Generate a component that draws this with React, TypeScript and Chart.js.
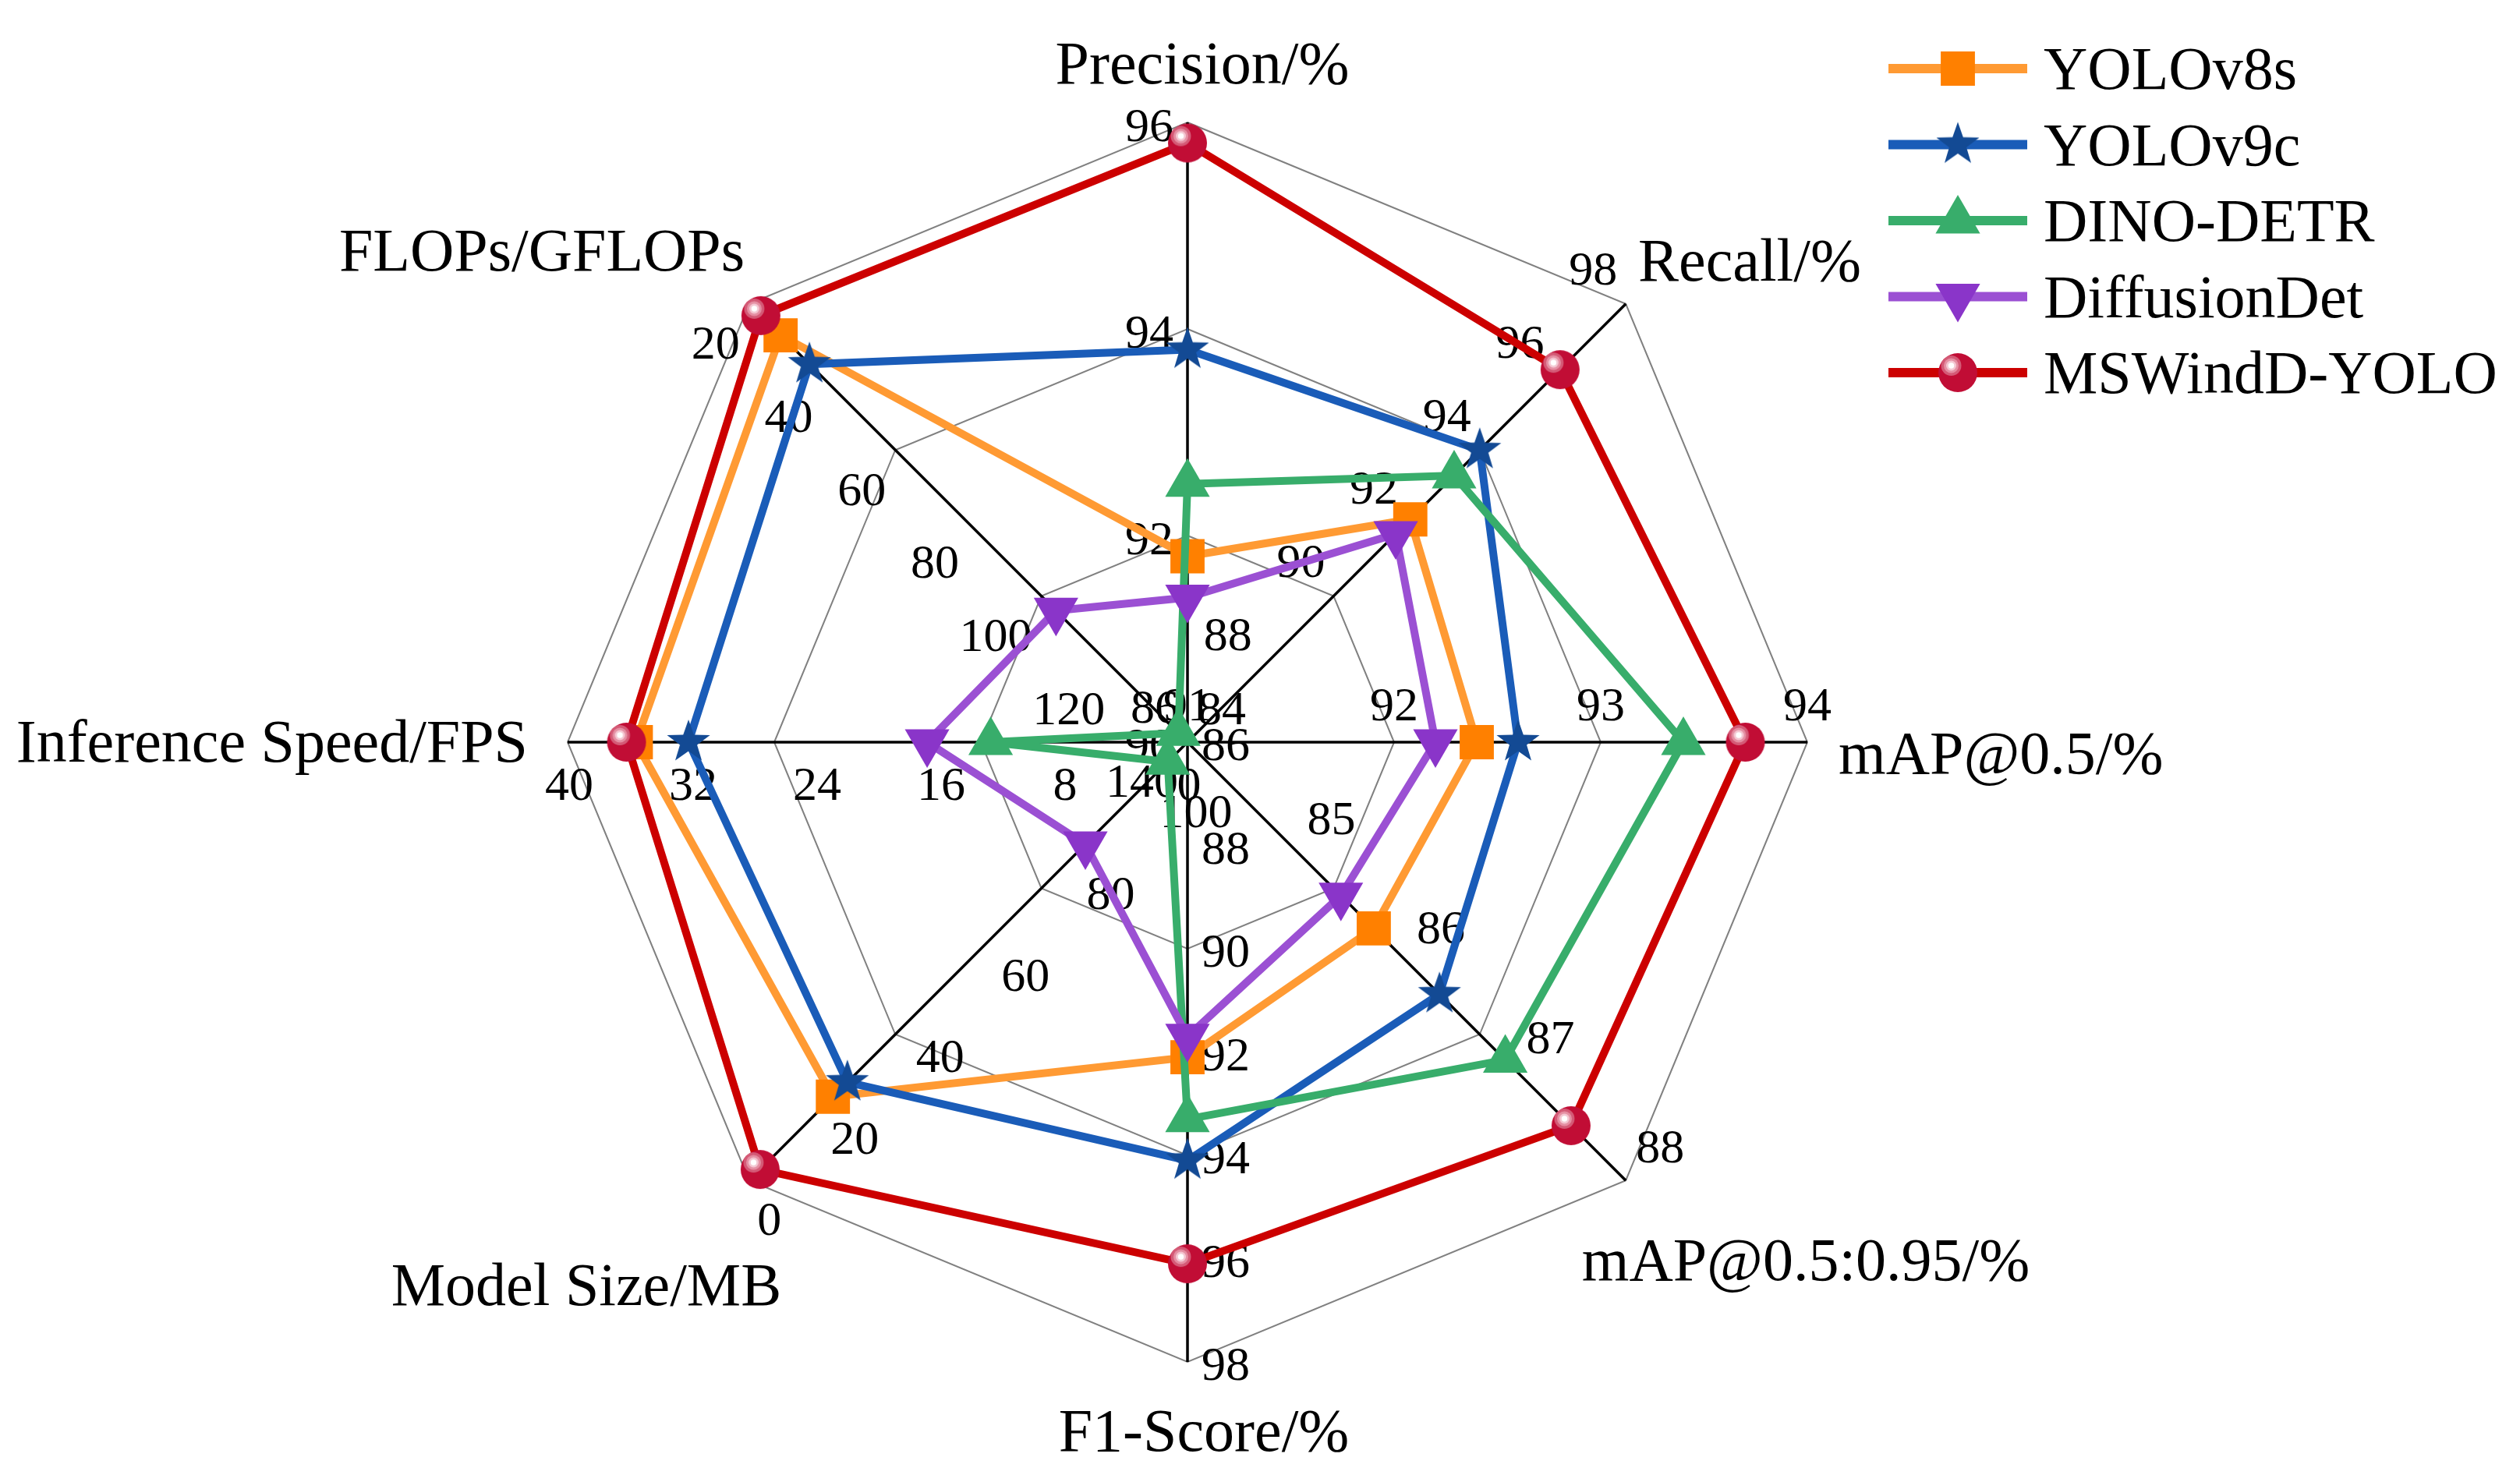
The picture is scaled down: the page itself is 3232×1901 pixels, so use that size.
import React, { useEffect, useRef } from 'react';
import { Chart, registerables } from 'chart.js';

Chart.register(...registerables);

// ---------- data ----------
const axisTitles = [
  'Precision/%',
  'Recall/%',
  'mAP@0.5/%',
  'mAP@0.5:0.95/%',
  'F1-Score/%',
  'Model Size/MB',
  'Inference Speed/FPS',
  'FLOPs/GFLOPs',
];
// value at the centre and at the rim of each axis
const axisInner = [90, 86, 91, 84, 86, 100, 0, 140];
const axisOuter = [96, 98, 94, 88, 98, 0, 40, 20];

const precisionTicks = [90, 92, 94, 96];
const recallTicks = [86, 88, 90, 92, 94, 96, 98];
const map50Ticks = [91, 92, 93, 94];
const map5095Ticks = [84, 85, 86, 87, 88];
const f1Ticks = [86, 88, 90, 92, 94, 96, 98];
const sizeTicks = [100, 80, 60, 40, 20, 0];
const speedTicks = [0, 8, 16, 24, 32, 40];
const flopsTicks = [140, 120, 100, 80, 60, 40, 20];

const seriesNames = ['YOLOv8s', 'YOLOv9c', 'DINO-DETR', 'DiffusionDet', 'MSWindD-YOLO'];
const yolov8s = [91.8, 92.1, 92.4, 85.7, 92.1, 19.1, 35.6, 28.6];
const yolov9c = [93.8, 94.0, 92.6, 86.3, 94.1, 22.4, 32.2, 36.5];
const dinoDetr = [92.5, 93.3, 93.4, 86.9, 93.3, 95.5, 12.7, 137.5];
const diffusionDet = [91.4, 91.7, 92.2, 85.4, 91.7, 76.7, 16.8, 104.0];
const mswinddYolo = [95.8, 96.2, 93.7, 87.5, 96.1, 2.5, 36.2, 23.2];

// ---------- helpers ----------
const RINGS = 3;
function norm(v: number, i: number) {
  return ((v - axisInner[i]) / (axisOuter[i] - axisInner[i])) * RINGS;
}

function makeStar(color: string, R: number) {
  const size = Math.ceil(R * 2 + 4);
  const c = document.createElement('canvas');
  c.width = size;
  c.height = size;
  const ctx = c.getContext('2d')!;
  const cx = size / 2;
  const cy = size / 2;
  const r = R * 0.4;
  ctx.beginPath();
  for (let k = 0; k < 10; k++) {
    const rad = k % 2 === 0 ? R : r;
    const a = -Math.PI / 2 + (k * Math.PI) / 5;
    const x = cx + rad * Math.cos(a);
    const y = cy + rad * Math.sin(a);
    if (k === 0) ctx.moveTo(x, y);
    else ctx.lineTo(x, y);
  }
  ctx.closePath();
  ctx.fillStyle = color;
  ctx.fill();
  return c;
}

function makeSphere(R: number) {
  const size = Math.ceil(R * 2 + 4);
  const c = document.createElement('canvas');
  c.width = size;
  c.height = size;
  const ctx = c.getContext('2d')!;
  const cx = size / 2;
  const cy = size / 2;
  ctx.beginPath();
  ctx.arc(cx, cy, R, 0, Math.PI * 2);
  ctx.fillStyle = '#C10D35';
  ctx.fill();
  ctx.save();
  ctx.clip();
  const hx = cx - R * 0.34;
  const hy = cy - R * 0.36;
  const rings: [number, string][] = [
    [R * 0.52, '#D45A76'],
    [R * 0.38, '#E58FA3'],
    [R * 0.26, '#F4C8D3'],
    [R * 0.15, '#FFFFFF'],
  ];
  rings.forEach(([rr, col]) => {
    ctx.beginPath();
    ctx.arc(hx, hy, rr, 0, Math.PI * 2);
    ctx.fillStyle = col;
    ctx.fill();
  });
  ctx.restore();
  return c;
}

const tickLists = [precisionTicks, recallTicks, map50Ticks, map5095Ticks, f1Ticks, sizeTicks, speedTicks, flopsTicks];

// label offsets (px at a 795px radius) relative to each tick position
const tickPlacement: { align: CanvasTextAlign; dx: number; dy: number; kx?: number; ky?: number }[] = [
  { align: 'right', dx: -18, dy: 8 },
  { align: 'center', dx: -42, dy: -41 },
  { align: 'center', dx: 0, dy: -44 },
  { align: 'center', dx: 44, dy: -39 },
  { align: 'left', dx: 18, dy: 7 },
  { align: 'center', dx: 11, dy: 93, kx: 15, ky: -39 },
  { align: 'center', dx: 2, dy: 58 },
  { align: 'right', dx: -12, dy: 54 },
];

// title anchors relative to the chart centre (px at a 795px radius)
const titlePlacement: { align: CanvasTextAlign; dx: number; dy: number }[] = [
  { align: 'center', dx: 19, dy: -845 },
  { align: 'left', dx: 578, dy: -592 },
  { align: 'left', dx: 835, dy: 40 },
  { align: 'center', dx: 793, dy: 690 },
  { align: 'center', dx: 21, dy: 909 },
  { align: 'center', dx: -771, dy: 722 },
  { align: 'right', dx: -846, dy: 25 },
  { align: 'center', dx: -828, dy: -605 },
];

const FONT = '"Liberation Serif", "Times New Roman", serif';

export default function App() {
  const ref = useRef<HTMLCanvasElement>(null);

  useEffect(() => {
    const canvas = ref.current!;
    const star = makeStar('#134A94', 29);
    const sphere = makeSphere(25);

    const series = [yolov8s, yolov9c, dinoDetr, diffusionDet, mswinddYolo];
    const styles: any[] = [
      { line: '#FF9A33', marker: '#FF8000', point: 'rect', radius: 31, rotation: 0 },
      { line: '#1A5CB8', marker: '#134A94', point: star, radius: 29, rotation: 0 },
      { line: '#38AD6B', marker: '#38AD6B', point: 'triangle', radius: 33, rotation: 0 },
      { line: '#9B50D3', marker: '#8A35C9', point: 'triangle', radius: 33, rotation: 180 },
      { line: '#CC0000', marker: '#C10D35', point: sphere, radius: 25, rotation: 0 },
    ];

    const datasets = series.map((vals, k) => ({
      label: seriesNames[k],
      data: vals.map((v, i) => norm(v, i)),
      borderColor: styles[k].line,
      backgroundColor: styles[k].marker,
      borderWidth: 10,
      fill: false,
      pointStyle: styles[k].point,
      pointRadius: styles[k].radius,
      pointHoverRadius: styles[k].radius,
      pointRotation: styles[k].rotation,
      pointBackgroundColor: styles[k].marker,
      pointBorderWidth: 0,
      order: 5 - k,
      clip: false as any,
    }));

    const drawMarker = (ctx: CanvasRenderingContext2D, st: any, x: number, y: number) => {
      if (typeof st.point !== 'string') {
        const img = st.point as HTMLCanvasElement;
        ctx.drawImage(img, x - img.width / 2, y - img.height / 2);
        return;
      }
      ctx.fillStyle = st.marker;
      ctx.beginPath();
      if (st.point === 'rect') {
        const s = st.radius * Math.SQRT1_2;
        ctx.rect(x - s, y - s, 2 * s, 2 * s);
      } else {
        const r = st.radius;
        const dir = st.rotation === 180 ? -1 : 1;
        ctx.moveTo(x, y - dir * r);
        ctx.lineTo(x + r * Math.sin(Math.PI / 3), y + dir * r * 0.5);
        ctx.lineTo(x - r * Math.sin(Math.PI / 3), y + dir * r * 0.5);
        ctx.closePath();
      }
      ctx.fill();
    };

    const labelsPlugin = {
      id: 'axisLabels',
      beforeDatasetsDraw(chart: any) {
        const ctx: CanvasRenderingContext2D = chart.ctx;
        const scale = chart.scales.r;
        const R = scale.drawingArea;
        const k = R / 795;
        ctx.save();
        ctx.fillStyle = '#000';
        // tick labels
        ctx.font = `${Math.round(62 * k)}px ${FONT}`;
        ctx.textBaseline = 'middle';
        tickLists.forEach((ticks, i) => {
          const pl = tickPlacement[i];
          ticks.forEach((t) => {
            const f = (t - axisInner[i]) / (axisOuter[i] - axisInner[i]);
            const p = scale.getPointPosition(i, R * f);
            ctx.textAlign = pl.align;
            ctx.fillText(
              String(t),
              p.x + (pl.dx + (pl.kx || 0) * f) * k,
              p.y + (pl.dy + (pl.ky || 0) * f) * k
            );
          });
        });
        // axis titles
        ctx.font = `${Math.round(78 * k)}px ${FONT}`;
        ctx.textBaseline = 'alphabetic';
        axisTitles.forEach((title, i) => {
          const pl = titlePlacement[i];
          ctx.textAlign = pl.align;
          ctx.fillText(title, scale.xCenter + pl.dx * k, scale.yCenter + pl.dy * k);
        });
        ctx.restore();
      },
      afterDraw(chart: any) {
        const ctx: CanvasRenderingContext2D = chart.ctx;
        ctx.save();
        const x0 = 2422;
        const x1 = 2600;
        const xt = 2621;
        ctx.font = `78px ${FONT}`;
        ctx.textAlign = 'left';
        ctx.textBaseline = 'alphabetic';
        seriesNames.forEach((name, k) => {
          const y = 88 + k * 97.5;
          const st = styles[k];
          ctx.strokeStyle = st.line;
          ctx.lineWidth = 12;
          ctx.beginPath();
          ctx.moveTo(x0, y);
          ctx.lineTo(x1, y);
          ctx.stroke();
          drawMarker(ctx, st, (x0 + x1) / 2, y);
          ctx.fillStyle = '#000';
          ctx.fillText(name, xt, y + 26);
        });
        ctx.restore();
      },
    };

    const chart = new Chart(canvas, {
      type: 'radar',
      data: { labels: axisTitles, datasets },
      options: {
        responsive: false,
        animation: false,
        devicePixelRatio: 1,
        layout: { padding: { left: 728, right: 914, top: 157, bottom: 154 } },
        elements: { line: { tension: 0 } },
        plugins: { legend: { display: false }, tooltip: { enabled: false } },
        scales: {
          r: {
            min: 0,
            max: RINGS,
            ticks: { display: false, stepSize: 1 },
            grid: { color: '#808080', lineWidth: 2 },
            angleLines: { color: '#000000', lineWidth: 3.5 },
            pointLabels: { display: false },
          },
        },
      } as any,
      plugins: [labelsPlugin],
    });
    return () => chart.destroy();
  }, []);

  return (
    <div style={{ position: 'fixed', left: 0, top: 0, width: 3232, height: 1901, background: '#fff' }}>
      <canvas ref={ref} width={3232} height={1901} style={{ display: 'block', width: 3232, height: 1901 }} />
    </div>
  );
}
